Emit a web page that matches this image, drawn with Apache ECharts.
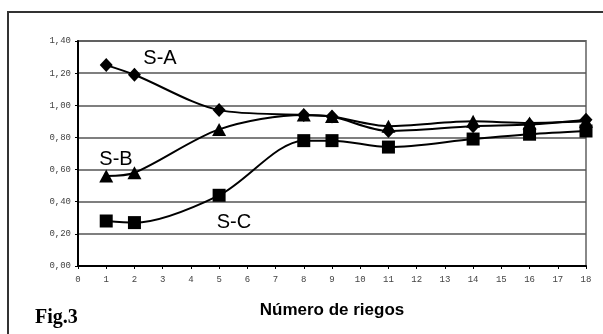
<!DOCTYPE html>
<html>
<head>
<meta charset="utf-8">
<script src="https://cdn.jsdelivr.net/npm/echarts@6/dist/echarts.min.js"></script>
<style>
  html, body { margin: 0; padding: 0; background: #fff; }
  #chart { width: 603px; height: 334px; }
</style>
</head>
<body>
<div id="chart"></div>
<script>
// Number of irrigations at which each soil was measured
const riegos = [1, 2, 5, 8, 9, 11, 14, 16, 18];

// Measured values per soil
const serieA = [1.25, 1.19, 0.97, 0.94, 0.93, 0.84, 0.87, 0.88, 0.91];
const serieB = [0.56, 0.58, 0.85, 0.94, 0.93, 0.87, 0.90, 0.89, 0.90];
const serieC = [0.28, 0.27, 0.44, 0.78, 0.78, 0.74, 0.79, 0.82, 0.84];

const seriesNames = ['S-A', 'S-B', 'S-C'];
const xAxisTitle = 'Número de riegos';
const figLabel = 'Fig.3';

function pairs(xs, ys) {
  return xs.map((x, i) => [x, ys[i]]);
}

const chart = echarts.init(document.getElementById('chart'), null, { renderer: 'canvas' });

const axisLabelStyle = {
  fontFamily: 'Liberation Mono, DejaVu Sans Mono, monospace',
  fontSize: 9,
  color: '#444'
};

function lineSeries(name, values, symbol, size) {
  return {
    name: name,
    type: 'line',
    data: pairs(riegos, values),
    smooth: 0.3,
    symbol: symbol,
    symbolSize: size,
    showSymbol: true,
    lineStyle: { color: '#000', width: 2 },
    itemStyle: { color: '#000', borderWidth: 0 },
    emphasis: { disabled: true },
    animation: false
  };
}

chart.setOption({
  animation: false,
  backgroundColor: '#fff',
  grid: {
    left: 78,
    right: 17,
    top: 41,
    bottom: 68,
    show: true,
    borderColor: '#888',
    borderWidth: 2,
    backgroundColor: 'transparent'
  },
  xAxis: {
    type: 'value',
    min: 0,
    max: 18,
    interval: 1,
    name: xAxisTitle,
    nameLocation: 'middle',
    nameGap: 36,
    nameTextStyle: {
      fontFamily: 'Liberation Sans, Arial, sans-serif',
      fontWeight: 'bold',
      fontSize: 17,
      color: '#000'
    },
    axisLine: { onZero: false, lineStyle: { color: '#000', width: 2 } },
    axisTick: { show: true, length: 3, lineStyle: { color: '#000', width: 1 } },
    axisLabel: Object.assign({ margin: 9 }, axisLabelStyle),
    splitLine: { show: false }
  },
  yAxis: {
    type: 'value',
    min: 0,
    max: 1.4,
    interval: 0.2,
    axisLine: { show: true, lineStyle: { color: '#000', width: 2 } },
    axisTick: { show: true, length: 3, lineStyle: { color: '#000', width: 1 } },
    axisLabel: Object.assign({
      margin: 7,
      formatter: v => v.toFixed(2).replace('.', ',')
    }, axisLabelStyle),
    splitLine: { show: true, lineStyle: { color: '#555', width: 1.5 } }
  },
  series: [
    lineSeries(seriesNames[0], serieA, 'diamond', [13, 14]),
    lineSeries(seriesNames[1], serieB, 'triangle', [14, 13]),
    lineSeries(seriesNames[2], serieC, 'rect', [13, 13])
  ],
  graphic: [
    {
      type: 'polyline',
      shape: { points: [[8, 334], [8, 12], [603, 12]] },
      style: { stroke: '#333', lineWidth: 2, fill: null },
      silent: true
    },
    {
      type: 'text', x: 160, y: 58,
      style: {
        text: seriesNames[0], fontFamily: 'Liberation Sans, Arial, sans-serif',
        fontSize: 20, fill: '#000', align: 'center', verticalAlign: 'middle'
      }
    },
    {
      type: 'text', x: 116, y: 159,
      style: {
        text: seriesNames[1], fontFamily: 'Liberation Sans, Arial, sans-serif',
        fontSize: 20, fill: '#000', align: 'center', verticalAlign: 'middle'
      }
    },
    {
      type: 'text', x: 234, y: 222,
      style: {
        text: seriesNames[2], fontFamily: 'Liberation Sans, Arial, sans-serif',
        fontSize: 20, fill: '#000', align: 'center', verticalAlign: 'middle'
      }
    },
    {
      type: 'text', x: 35, y: 318,
      style: {
        text: figLabel, fontFamily: 'Liberation Serif, Times New Roman, serif',
        fontWeight: 'bold', fontSize: 20, fill: '#000', align: 'left', verticalAlign: 'middle'
      }
    }
  ]
});
</script>
</body>
</html>
